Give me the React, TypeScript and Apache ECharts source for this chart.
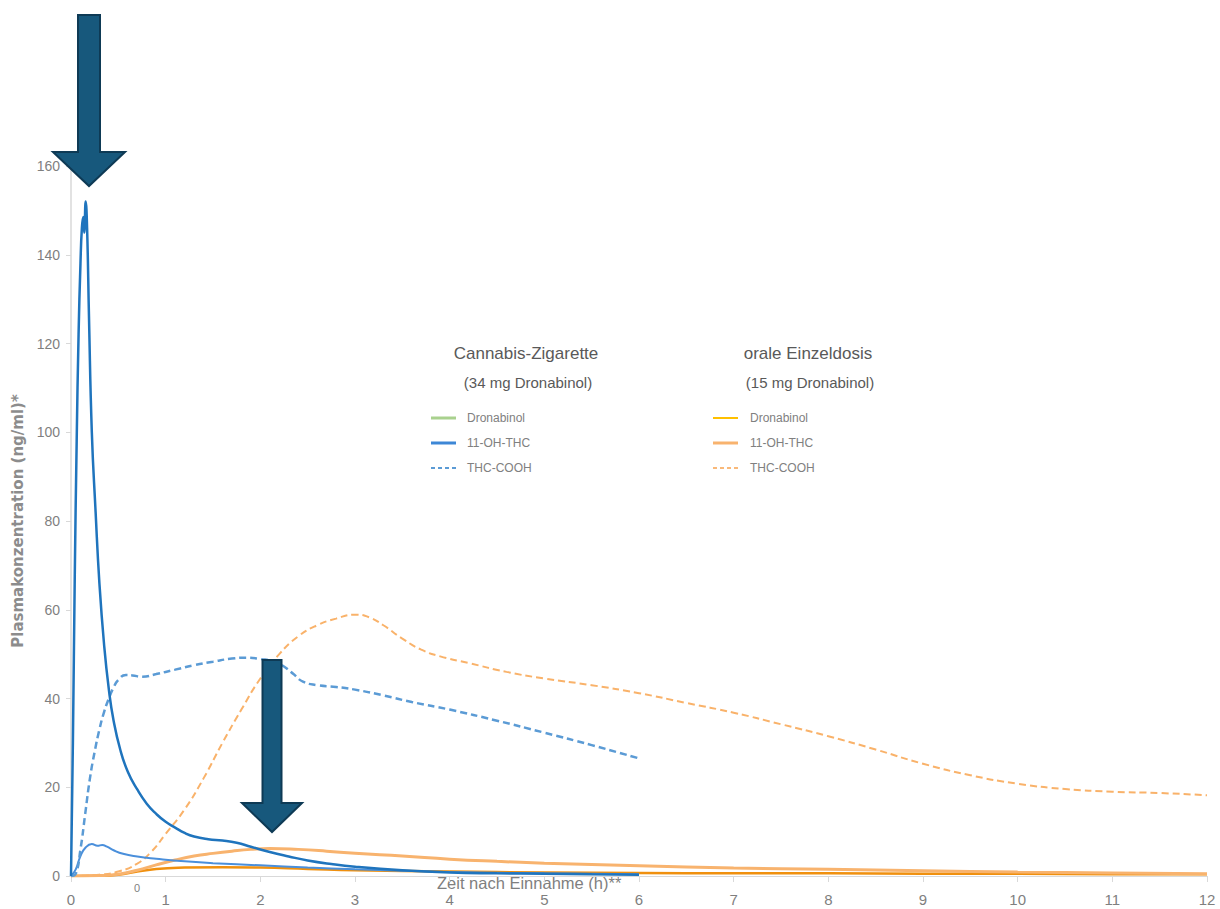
import React, { useEffect, useRef } from "react";
import * as echarts from "echarts";

// ---- Data (time in h, concentration in ng/ml) ----
const cigDronabinol: [number, number][] = [
  [0, 0], [0.02, 30], [0.04, 68], [0.06, 98], [0.08, 122], [0.1, 138], [0.115, 146], [0.13, 148.5],
  [0.14, 145], [0.155, 152], [0.17, 146], [0.19, 126], [0.22, 100], [0.26, 82], [0.3, 66], [0.35, 52],
  [0.4, 42], [0.45, 35], [0.52, 28.5], [0.6, 23.5], [0.7, 19.5], [0.8, 16.3], [0.9, 14], [1.0, 12.2],
  [1.1, 10.9], [1.2, 9.7], [1.3, 8.9], [1.45, 8.3], [1.6, 8.0], [1.75, 7.5], [1.9, 6.6], [2.1, 5.4],
  [2.3, 4.4], [2.5, 3.5], [2.75, 2.7], [3.0, 2.1], [3.5, 1.3], [4.0, 0.8], [4.5, 0.6], [5.0, 0.5],
  [5.5, 0.4], [6.0, 0.3],
];
const cigOhThc: [number, number][] = [
  [0, 0], [0.05, 1.5], [0.1, 4.5], [0.15, 6.3], [0.22, 7.2], [0.28, 6.8], [0.33, 7.0], [0.38, 6.6],
  [0.45, 5.8], [0.55, 5.0], [0.7, 4.4], [0.9, 3.9], [1.2, 3.3], [1.5, 2.9], [2.0, 2.4], [2.5, 1.9],
  [3.0, 1.5], [3.5, 1.2], [4.0, 0.9], [5.0, 0.6], [6.0, 0.4],
];
const cigThcCooh: [number, number][] = [
  [0, 0], [0.05, 0.5], [0.1, 6], [0.15, 14], [0.2, 22], [0.25, 28], [0.3, 33], [0.35, 37], [0.4, 40],
  [0.45, 42.5], [0.5, 44.2], [0.58, 45.3], [0.65, 45.2], [0.75, 44.9], [0.9, 45.5], [1.1, 46.5],
  [1.3, 47.5], [1.5, 48.3], [1.7, 49], [1.85, 49.2], [2.0, 48.9], [2.15, 48.3], [2.25, 47.2],
  [2.35, 45.5], [2.45, 43.8], [2.6, 43.0], [2.8, 42.6], [3.0, 42.0], [3.3, 40.7], [3.6, 39.2],
  [4.0, 37.5], [4.5, 35], [5.0, 32.3], [5.5, 29.5], [6.0, 26.5],
];
const oralDronabinol: [number, number][] = [
  [0, 0], [0.3, 0.05], [0.5, 0.3], [0.7, 1.0], [0.9, 1.6], [1.2, 1.9], [1.6, 2.0], [2.0, 1.9],
  [2.5, 1.6], [3.0, 1.3], [4.0, 1.0], [5.0, 0.8], [6.0, 0.7], [7.0, 0.6], [8.0, 0.6], [9.0, 0.5],
  [10.0, 0.5], [11.0, 0.4], [12.0, 0.4],
];
const oralOhThc: [number, number][] = [
  [0, 0], [0.3, 0.1], [0.5, 0.4], [0.7, 1.3], [0.9, 2.5], [1.1, 3.6], [1.3, 4.5], [1.5, 5.1],
  [1.7, 5.6], [1.9, 6.0], [2.1, 6.2], [2.4, 6.0], [2.7, 5.6], [3.0, 5.1], [3.5, 4.5], [4.0, 3.8],
  [4.5, 3.3], [5.0, 2.9], [6.0, 2.3], [7.0, 1.8], [8.0, 1.5], [9.0, 1.2], [10.0, 0.9], [11.0, 0.7], [12.0, 0.5],
];
const oralThcCooh: [number, number][] = [
  [0, 0], [0.3, 0.3], [0.5, 1.0], [0.7, 2.8], [0.85, 5.5], [1.0, 9.5], [1.2, 15], [1.4, 22], [1.6, 30],
  [1.8, 37.5], [2.0, 44.5], [2.2, 50], [2.4, 54], [2.6, 56.5], [2.8, 58], [3.0, 58.9], [3.15, 58.3],
  [3.3, 56.5], [3.5, 53.5], [3.7, 51], [3.9, 49.5], [4.2, 48], [4.6, 46], [5.0, 44.5], [5.5, 43],
  [6.0, 41.2], [6.5, 39], [7.0, 36.8], [7.5, 34.2], [8.0, 31.5], [8.5, 28.5], [9.0, 25.3], [9.5, 22.7],
  [10.0, 20.8], [10.5, 19.6], [11.0, 19.0], [11.5, 18.7], [12.0, 18.2],
];

const legendGroups = [
  { title: "Cannabis-Zigarette", sub: "(34 mg Dronabinol)" },
  { title: "orale Einzeldosis", sub: "(15 mg Dronabinol)" },
];
const legendItems = ["Dronabinol", "11-OH-THC", "THC-COOH"];
const yAxisTitle = "Plasmakonzentration (ng/ml)*";
const xAxisTitle = "Zeit nach Einnahme (h)**";

const SANS = "'Liberation Sans', Arial, sans-serif";

export default function App() {
  const ref = useRef<HTMLDivElement>(null);
  useEffect(() => {
    if (!ref.current) return;
    const chart = echarts.init(ref.current, undefined, { renderer: "svg" });

    const arrow = (cx: number, top: number, shaftBottom: number, tip: number, sw: number, hw: number) => ({
      type: "polygon",
      z: 100,
      shape: {
        points: [
          [cx - sw / 2, top], [cx + sw / 2, top], [cx + sw / 2, shaftBottom], [cx + hw / 2, shaftBottom],
          [cx, tip], [cx - hw / 2, shaftBottom], [cx - sw / 2, shaftBottom],
        ],
      },
      style: { fill: "#17587c", stroke: "#0e3a55", lineWidth: 2 },
    });

    const legendColors = [
      [
        { color: "#a9d18e", dash: false, w: 3 },
        { color: "#3d87d6", dash: false, w: 3 },
        { color: "#5b9bd5", dash: true, w: 2 },
      ],
      [
        { color: "#ffc000", dash: false, w: 2 },
        { color: "#f8b36e", dash: false, w: 3 },
        { color: "#f9b97a", dash: true, w: 2 },
      ],
    ];
    const groupPos = [
      { cx: 526, lx: 431, tx: 467 },
      { cx: 808, lx: 713, tx: 750 },
    ];
    const itemY = [418, 443, 468];
    const legendGraphics: any[] = [];
    legendGroups.forEach((g, gi) => {
      const p = groupPos[gi];
      legendGraphics.push({
        type: "text", x: p.cx, y: 353,
        style: { text: g.title, font: `17px ${SANS}`, fill: "#595959", textAlign: "center", textVerticalAlign: "middle" },
      });
      legendGraphics.push({
        type: "text", x: p.cx + 2, y: 382,
        style: { text: g.sub, font: `15px ${SANS}`, fill: "#595959", textAlign: "center", textVerticalAlign: "middle" },
      });
      legendItems.forEach((name, i) => {
        const c = legendColors[gi][i];
        legendGraphics.push({
          type: "line",
          shape: { x1: p.lx, y1: itemY[i], x2: p.lx + 25, y2: itemY[i] },
          style: { stroke: c.color, lineWidth: c.w, lineDash: c.dash ? [4, 3] : null },
        });
        legendGraphics.push({
          type: "text", x: p.tx, y: itemY[i],
          style: { text: name, font: `12px ${SANS}`, fill: "#808080", textAlign: "left", textVerticalAlign: "middle" },
        });
      });
    });

    const line = (name: string, data: [number, number][], color: string, width: number, dashed = false, z = 2) => ({
      type: "line",
      name,
      data,
      smooth: 0.5,
      showSymbol: false,
      z,
      lineStyle: { color, width, type: dashed ? [7, 4] : "solid" },
      itemStyle: { color },
    });

    chart.setOption({
      animation: false,
      backgroundColor: "#ffffff",
      grid: { left: 71, right: 13, top: 166, bottom: 33, containLabel: false, outerBoundsMode: "none" },
      xAxis: {
        type: "value",
        min: 0,
        max: 12,
        interval: 1,
        axisLine: { show: true, lineStyle: { color: "#d9d9d9", width: 1 } },
        axisTick: { show: true, length: 6, lineStyle: { color: "#d9d9d9" } },
        axisLabel: { color: "#7f7f7f", fontSize: 15, margin: 16, fontFamily: SANS },
        splitLine: { show: false },
      },
      yAxis: {
        type: "value",
        min: 0,
        max: 160,
        interval: 20,
        name: yAxisTitle,
        nameLocation: "middle",
        nameRotate: 90,
        nameGap: 45,
        nameTextStyle: { color: "#8c8c8c", fontSize: 15, fontWeight: "bold", fontFamily: "'DejaVu Sans', Verdana, sans-serif" },
        axisLine: { show: true, lineStyle: { color: "#d9d9d9", width: 1.5 } },
        axisTick: { show: true, length: 5, lineStyle: { color: "#d9d9d9" } },
        axisLabel: { color: "#7f7f7f", fontSize: 14, margin: 11, fontFamily: SANS },
        splitLine: { show: false },
      },
      series: [
        line("Dronabinol (Cannabis-Zigarette)", cigDronabinol, "#1f74bd", 2.5, false, 5),
        line("11-OH-THC (Cannabis-Zigarette)", cigOhThc, "#4a8fdb", 2, false, 4),
        line("THC-COOH (Cannabis-Zigarette)", cigThcCooh, "#5b9bd5", 2.5, true, 4),
        line("Dronabinol (orale Einzeldosis)", oralDronabinol, "#f0900e", 2.5, false, 3),
        line("11-OH-THC (orale Einzeldosis)", oralOhThc, "#f8b36e", 3, false, 3),
        line("THC-COOH (orale Einzeldosis)", oralThcCooh, "#f9b26a", 2, true, 3),
      ],
      graphic: [
        ...legendGraphics,
        {
          type: "text", x: 437, y: 883,
          style: { text: xAxisTitle, font: `16.5px ${SANS}`, fill: "#7f7f7f", textAlign: "left", textVerticalAlign: "middle" },
        },
        {
          type: "text", x: 137, y: 888,
          style: { text: "0", font: `11px ${SANS}`, fill: "#7f7f7f", textAlign: "center", textVerticalAlign: "middle" },
        },
        arrow(89, 15, 152, 186, 22, 72),
        arrow(272, 660, 803, 832, 19, 60),
      ],
    });
    return () => chart.dispose();
  }, []);
  return <div ref={ref} style={{ position: "fixed", left: 0, top: 0, width: 1220, height: 909, background: "#fff" }} />;
}
